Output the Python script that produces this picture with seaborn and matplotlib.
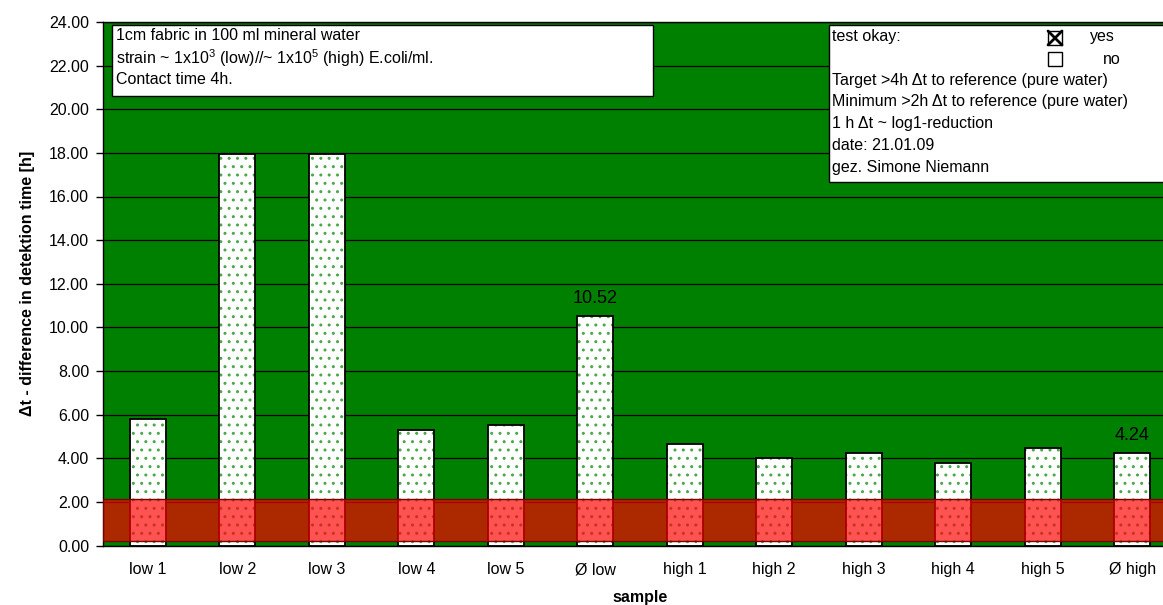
import matplotlib
matplotlib.use("Agg")
import matplotlib.pyplot as plt
from matplotlib.patches import Rectangle
import seaborn as sns
import pandas as pd

# --- data -------------------------------------------------------------
samples = ["low 1", "low 2", "low 3", "low 4", "low 5", "Ø low",
           "high 1", "high 2", "high 3", "high 4", "high 5", "Ø high"]
delta_t = [5.80, 17.96, 17.96, 5.31, 5.53, 10.52,
           4.66, 4.03, 4.23, 3.80, 4.47, 4.24]
labelled = {"Ø low": "10.52", "Ø high": "4.24"}
min_band = (0.22, 2.12)          # shaded "minimum" zone
y_ticks = [0, 2, 4, 6, 8, 10, 12, 14, 16, 18, 20, 22, 24]

info_left = ["1cm fabric in 100 ml mineral water",
             r"strain ~ 1x10$^3$ (low)//~ 1x10$^5$ (high) E.coli/ml.",
             "Contact time 4h."]
info_right = ["Target >4h \u0394t to reference (pure water)",
              "Minimum >2h \u0394t to reference (pure water)",
              "1 h \u0394t ~ log1-reduction",
              "date: 21.01.09",
              "gez. Simone Niemann"]

df = pd.DataFrame({"sample": samples, "dt": delta_t})

# --- style ------------------------------------------------------------
sns.set_theme(style="white")
plt.rcParams["font.family"] = ["Liberation Sans", "DejaVu Sans"]
plt.rcParams["mathtext.fontset"] = "custom"
plt.rcParams["mathtext.rm"] = "Liberation Sans"
plt.rcParams["mathtext.it"] = "Liberation Sans:italic"
plt.rcParams["hatch.linewidth"] = 1.0

W, H = 1163, 605
fig = plt.figure(figsize=(W / 100, H / 100), dpi=100)
fig.patch.set_facecolor("white")

# plot area (slightly wider than the canvas on the right)
ax_l, ax_r, ax_t, ax_b = 103, 1177, 22, 545.5
ax = fig.add_axes([ax_l / W, 1 - ax_b / H, (ax_r - ax_l) / W, (ax_b - ax_t) / H])
ax.set_facecolor("#008000")

sns.barplot(data=df, x="sample", y="dt", ax=ax, color="white",
            width=0.4, edgecolor="black", linewidth=0, saturation=1, zorder=2)

# dotted fill and outline on every bar
for p in list(ax.patches):
    x, y = p.get_xy()
    w, h = p.get_width(), p.get_height()
    ax.add_patch(Rectangle((x, y), w, h, fill=False, hatch="..",
                           edgecolor="#4aa84a", linewidth=0, zorder=2.1))
    ax.add_patch(Rectangle((x, y), w, h, fill=False,
                           edgecolor="black", linewidth=1.3, zorder=2.2))

# red minimum zone
ax.axhspan(*min_band, facecolor=(1.0, 0.0, 0.0, 0.68),
           edgecolor="#7a0000", linewidth=1.0, zorder=3)

# value labels on the mean bars
for i, s in enumerate(samples):
    if s in labelled:
        ax.text(i, delta_t[i] + 0.4, labelled[s], ha="center", va="bottom",
                fontsize=13, color="black", zorder=4)

ax.set_ylim(0, 24)
ax.set_xlim(-0.5, len(samples) - 0.5)
ax.set_yticks(y_ticks)
ax.set_yticklabels([f"{v:.2f}" for v in y_ticks])
ax.yaxis.grid(True, color="black", linewidth=0.9)
ax.set_axisbelow(True)
ax.tick_params(axis="y", length=5, width=1, color="black", pad=5,
               labelsize=11.5, labelcolor="black", left=True, direction="out")
ax.tick_params(axis="x", length=0, pad=12, labelsize=11.5, labelcolor="black")
for sp in ax.spines.values():
    sp.set_color("black")
    sp.set_linewidth(1.0)

ax.set_xlabel("sample", fontsize=11.5, fontweight="bold", color="black",
              labelpad=9)
ax.set_ylabel("\u0394t - difference in detektion time [h]", fontsize=11.5,
              fontweight="bold", color="black", labelpad=10)


# --- info boxes (figure pixel coordinates) ----------------------------
def fx(px):
    return px / W


def fy(py):
    return 1 - py / H


def box(x0, y0, x1, y1):
    fig.add_artist(Rectangle((fx(x0), fy(y1)), fx(x1) - fx(x0), fy(y0) - fy(y1),
                             transform=fig.transFigure, facecolor="white",
                             edgecolor="black", linewidth=1.0, zorder=5))


def line(px, py, s, **kw):
    fig.text(fx(px), fy(py), s, ha="left", va="center", fontsize=11.5,
             color="black", zorder=6, **kw)


box(112, 25, 653, 96)
for k, s in enumerate(info_left):
    line(116, 36 + 22 * k, s)

box(829, 25, 1175, 182)
line(832, 37, "test okay:")
line(1090, 37, "yes")
line(1103, 59, "no")
for k, s in enumerate(info_right):
    line(832, 80 + 21.8 * k, s)

# check boxes
for (cx, cy, checked) in [(1048, 31, True), (1048, 52, False)]:
    fig.add_artist(Rectangle((fx(cx), fy(cy + 14)), fx(14), 14 / H,
                             transform=fig.transFigure, facecolor="white",
                             edgecolor="black", linewidth=1.0, zorder=6))
    if checked:
        fig.add_artist(plt.Line2D([fx(cx), fx(cx + 14)], [fy(cy), fy(cy + 14)],
                                  transform=fig.transFigure, color="black",
                                  linewidth=2.0, zorder=7))
        fig.add_artist(plt.Line2D([fx(cx), fx(cx + 14)], [fy(cy + 14), fy(cy)],
                                  transform=fig.transFigure, color="black",
                                  linewidth=2.0, zorder=7))

fig.savefig("out.png", dpi=100)
